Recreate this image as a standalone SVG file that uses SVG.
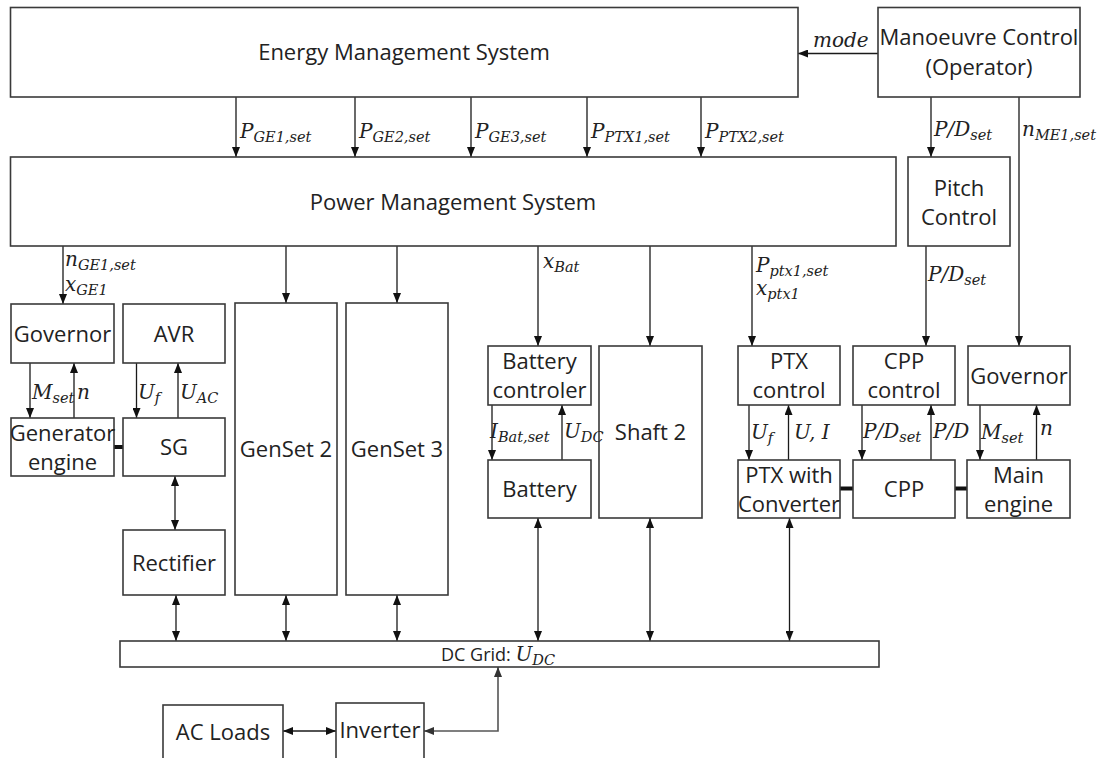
<svg xmlns="http://www.w3.org/2000/svg" width="1099" height="758" viewBox="0 0 1099 758">
<style>
.b{fill:#fff;stroke:#3a3a3a;stroke-width:1.6}
.t{font-family:"Open Sans","Liberation Sans",sans-serif;font-size:22px;fill:#222;text-anchor:middle}
.t18{font-family:"Open Sans","Liberation Sans",sans-serif;font-size:18px;fill:#222}
.m{font-family:"DejaVu Serif","Liberation Serif",serif;font-style:italic;font-size:20px;fill:#222}
.s{font-size:14.5px}
.c{stroke:#1a1a1a;stroke-width:1.3;fill:none}
.g{stroke:#555;stroke-width:1.6;fill:none}
.k{stroke:#111;stroke-width:4;fill:none}
.e{marker-end:url(#ah)}
.d{marker-start:url(#ah);marker-end:url(#ah)}
.gd{marker-start:url(#ahg);marker-end:url(#ahg)}
</style>
<defs>
<marker id="ah" viewBox="0 0 10 8" refX="10" refY="4" markerWidth="10" markerHeight="8" markerUnits="userSpaceOnUse" orient="auto-start-reverse"><path d="M0,0 L10,4 L0,8 z" fill="#111"/></marker>
<marker id="ahg" viewBox="0 0 10 8" refX="10" refY="4" markerWidth="10" markerHeight="8" markerUnits="userSpaceOnUse" orient="auto-start-reverse"><path d="M0,0 L10,4 L0,8 z" fill="#333"/></marker>
</defs>
<rect width="1099" height="758" fill="#fff"/>

<g id="connectors">
<line class="c e" x1="878" y1="53.5" x2="798" y2="53.5"/>
<line class="c e" x1="236" y1="97" x2="236" y2="157"/>
<line class="c e" x1="355" y1="97" x2="355" y2="157"/>
<line class="c e" x1="471" y1="97" x2="471" y2="157"/>
<line class="c e" x1="587" y1="97" x2="587" y2="157"/>
<line class="c e" x1="701" y1="97" x2="701" y2="157"/>
<line class="c e" x1="931" y1="97" x2="931" y2="157"/>
<line class="c e" x1="1019" y1="97" x2="1019" y2="346"/>
<line class="c e" x1="63" y1="246" x2="63" y2="304"/>
<line class="c e" x1="286" y1="246" x2="286" y2="303"/>
<line class="c e" x1="397" y1="246" x2="397" y2="303"/>
<line class="c e" x1="538" y1="246" x2="538" y2="346"/>
<line class="c e" x1="650" y1="246" x2="650" y2="346"/>
<line class="c e" x1="752" y1="246" x2="752" y2="346"/>
<line class="c e" x1="926" y1="246" x2="926" y2="346"/>
<line class="c e" x1="30" y1="363" x2="30" y2="418"/>
<line class="c e" x1="74" y1="418" x2="74" y2="363"/>
<line class="c e" x1="136.5" y1="363" x2="136.5" y2="418"/>
<line class="c e" x1="178" y1="418" x2="178" y2="363"/>
<line class="c e" x1="492" y1="405" x2="492" y2="460"/>
<line class="c e" x1="562" y1="460" x2="562" y2="405"/>
<line class="c e" x1="749" y1="405" x2="749" y2="460"/>
<line class="c e" x1="788.5" y1="460" x2="788.5" y2="405"/>
<line class="c e" x1="862" y1="405" x2="862" y2="460"/>
<line class="c e" x1="931" y1="460" x2="931" y2="405"/>
<line class="c e" x1="980" y1="405" x2="980" y2="460"/>
<line class="c e" x1="1036.5" y1="460" x2="1036.5" y2="405"/>
<line class="c d" x1="175" y1="476" x2="175" y2="530"/>
<line class="c d" x1="176" y1="595" x2="176" y2="641"/>
<line class="c d" x1="286" y1="595" x2="286" y2="641"/>
<line class="c d" x1="397" y1="595" x2="397" y2="641"/>
<line class="c d" x1="538" y1="518" x2="538" y2="641"/>
<line class="c d" x1="650" y1="518" x2="650" y2="641"/>
<line class="c d" x1="789.5" y1="518" x2="789.5" y2="641"/>
<line class="c d" x1="283" y1="731" x2="336" y2="731"/>
<polyline class="g gd" points="424,731 498,731 498,667"/>
<line class="k" x1="114" y1="447" x2="123" y2="447"/>
<line class="k" x1="840" y1="488.5" x2="853" y2="488.5"/>
<line class="k" x1="955" y1="488.5" x2="967" y2="488.5"/>
</g>

<g id="ems"><rect class="b" x="10.5" y="7.5" width="787.5" height="89.5"/><text class="t" x="404" y="60">Energy Management System</text></g>
<g id="manoeuvre"><rect class="b" x="878" y="7.5" width="202" height="89.5"/><text class="t" x="979" y="45">Manoeuvre Control</text><text class="t" x="979" y="75">(Operator)</text></g>
<g id="pms"><rect class="b" x="10.5" y="157" width="885.5" height="89"/><text class="t" x="453" y="210">Power Management System</text></g>
<g id="pitch"><rect class="b" x="908" y="157" width="102" height="89"/><text class="t" x="959" y="196">Pitch</text><text class="t" x="959" y="225">Control</text></g>
<g id="governor1"><rect class="b" x="11" y="304" width="103" height="59"/><text class="t" x="62.5" y="341.5">Governor</text></g>
<g id="avr"><rect class="b" x="123" y="304" width="102" height="59"/><text class="t" x="174" y="341.5">AVR</text></g>
<g id="genset2"><rect class="b" x="235" y="303" width="102" height="292"/><text class="t" x="286" y="457">GenSet 2</text></g>
<g id="genset3"><rect class="b" x="346" y="303" width="102" height="292"/><text class="t" x="397" y="457">GenSet 3</text></g>
<g id="batteryctrl"><rect class="b" x="488" y="346" width="103" height="59"/><text class="t" x="539.5" y="369">Battery</text><text class="t" x="539.5" y="398">controler</text></g>
<g id="shaft2"><rect class="b" x="599" y="346" width="103" height="172"/><text class="t" x="650.5" y="440">Shaft 2</text></g>
<g id="ptxctrl"><rect class="b" x="738" y="346" width="102" height="59"/><text class="t" x="789" y="369">PTX</text><text class="t" x="789" y="398">control</text></g>
<g id="cppctrl"><rect class="b" x="853" y="346" width="102" height="59"/><text class="t" x="904" y="369">CPP</text><text class="t" x="904" y="398">control</text></g>
<g id="governor2"><rect class="b" x="968" y="346" width="102" height="59"/><text class="t" x="1019" y="383.5">Governor</text></g>
<g id="genengine"><rect class="b" x="11" y="418" width="103" height="58"/><text class="t" x="62.5" y="440.5">Generator</text><text class="t" x="62.5" y="469.5">engine</text></g>
<g id="sg"><rect class="b" x="123" y="418" width="102" height="58"/><text class="t" x="174" y="455">SG</text></g>
<g id="battery"><rect class="b" x="488" y="460" width="103" height="58"/><text class="t" x="539.5" y="497">Battery</text></g>
<g id="ptxconv"><rect class="b" x="738" y="460" width="102" height="58"/><text class="t" x="789" y="482.5">PTX with</text><text class="t" x="789" y="511.5">Converter</text></g>
<g id="cpp"><rect class="b" x="853" y="460" width="102" height="58"/><text class="t" x="904" y="497">CPP</text></g>
<g id="mainengine"><rect class="b" x="967" y="460" width="103" height="58"/><text class="t" x="1018.5" y="482.5">Main</text><text class="t" x="1018.5" y="511.5">engine</text></g>
<g id="rectifier"><rect class="b" x="123" y="530" width="102" height="65"/><text class="t" x="174" y="570.5">Rectifier</text></g>
<g id="dcgrid"><rect class="b" x="120" y="641" width="759" height="26"/><text class="t18" x="441" y="661">DC Grid: <tspan class="m">U</tspan><tspan class="m s" dy="4">DC</tspan></text></g>
<g id="acloads"><rect class="b" x="163" y="705" width="120" height="70"/><text class="t" x="223" y="740">AC Loads</text></g>
<g id="inverter"><rect class="b" x="336" y="703" width="88" height="72"/><text class="t" x="380" y="738">Inverter</text></g>

<g id="labels">
<text class="m" x="813" y="47">mode</text>
<text class="m" x="240" y="138">P<tspan class="s" dy="4">GE1,set</tspan></text>
<text class="m" x="359" y="138">P<tspan class="s" dy="4">GE2,set</tspan></text>
<text class="m" x="475" y="138">P<tspan class="s" dy="4">GE3,set</tspan></text>
<text class="m" x="591" y="138">P<tspan class="s" dy="4">PTX1,set</tspan></text>
<text class="m" x="705" y="138">P<tspan class="s" dy="4">PTX2,set</tspan></text>
<text class="m" x="934" y="136">P/D<tspan class="s" dy="4">set</tspan></text>
<text class="m" x="1022" y="136">n<tspan class="s" dy="4">ME1,set</tspan></text>
<text class="m" x="65" y="266">n<tspan class="s" dy="4">GE1,set</tspan></text>
<text class="m" x="65" y="291">x<tspan class="s" dy="4">GE1</tspan></text>
<text class="m" x="543" y="268">x<tspan class="s" dy="4">Bat</tspan></text>
<text class="m" x="756" y="272">P<tspan class="s" dy="4">ptx1,set</tspan></text>
<text class="m" x="756" y="295">x<tspan class="s" dy="4">ptx1</tspan></text>
<text class="m" x="928" y="281">P/D<tspan class="s" dy="4">set</tspan></text>
<text class="m" x="32" y="399">M<tspan class="s" dy="4">set</tspan></text>
<text class="m" x="77" y="399">n</text>
<text class="m" x="138" y="399">U<tspan class="s" dy="4">f</tspan></text>
<text class="m" x="180" y="399">U<tspan class="s" dy="4">AC</tspan></text>
<text class="m" x="490" y="438">I<tspan class="s" dy="4">Bat,set</tspan></text>
<text class="m" x="564" y="438">U<tspan class="s" dy="4">DC</tspan></text>
<text class="m" x="751" y="439">U<tspan class="s" dy="4">f</tspan></text>
<text class="m" x="794" y="439">U, I</text>
<text class="m" x="863" y="438">P/D<tspan class="s" dy="4">set</tspan></text>
<text class="m" x="933" y="438">P/D</text>
<text class="m" x="981" y="439">M<tspan class="s" dy="4">set</tspan></text>
<text class="m" x="1040" y="435">n</text>
</g>
</svg>
